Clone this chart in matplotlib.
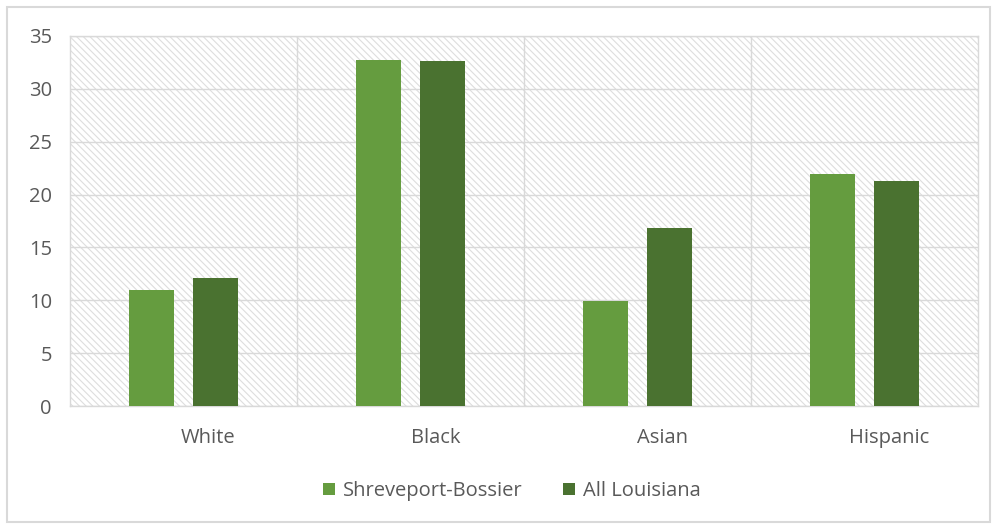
import numpy as np
import matplotlib
matplotlib.use("Agg")
import matplotlib.pyplot as plt
from matplotlib.patches import Rectangle

categories = ["White", "Black", "Asian", "Hispanic"]
shreveport = [11.0, 32.7, 9.9, 21.9]
louisiana = [12.1, 32.6, 16.8, 21.3]
series_names = ["Shreveport-Bossier", "All Louisiana"]

c_light = "#659C3F"
c_dark = "#4A7230"
grid_c = "#d9d9d9"
text_c = "#595959"

plt.rcParams["font.family"] = ["Open Sans", "DejaVu Sans"]
plt.rcParams["hatch.linewidth"] = 0.8

fig = plt.figure(figsize=(9.95, 5.25), dpi=100)
ax = fig.add_axes([70 / 995, 1 - 406 / 525, 908 / 995, 370 / 525])

x = np.arange(len(categories))
w = 0.194
off = 0.141

# hatched background
ax.add_patch(Rectangle((-0.5, 0), 4, 35, facecolor="white", edgecolor="#dedede",
                       linewidth=0, hatch="\\\\\\\\\\", zorder=0))

ax.bar(x - off, shreveport, w, color=c_light, label=series_names[0], zorder=3)
ax.bar(x + off, louisiana, w, color=c_dark, label=series_names[1], zorder=3)

ax.set_xlim(-0.5, 3.5)
ax.set_ylim(0, 35)
ax.set_yticks(range(0, 36, 5))
ax.yaxis.grid(True, color=grid_c, linewidth=1, zorder=1)
for b in [0.5, 1.5, 2.5]:
    ax.axvline(b, color=grid_c, linewidth=1, zorder=1)
ax.set_axisbelow(True)

for s in ax.spines.values():
    s.set_color(grid_c)
    s.set_linewidth(1)

ax.set_xticks(x + 0.11)
ax.set_xticklabels(categories)
ax.tick_params(axis="both", length=0, labelsize=14.5, colors=text_c)
ax.tick_params(axis="x", pad=16)
ax.tick_params(axis="y", pad=13)

leg = fig.legend(loc="center", bbox_to_anchor=(512 / 995, 1 - 491 / 525), ncol=2,
                 frameon=False, fontsize=14.5, handlelength=0.6, handleheight=0.6,
                 handletextpad=0.4, columnspacing=2.0)
for t in leg.get_texts():
    t.set_color(text_c)

fig.patches.append(Rectangle((7 / 995, 3 / 525), 983 / 995, 515 / 525,
                             transform=fig.transFigure, fill=False,
                             edgecolor="#d9d9d9", linewidth=1.5))

fig.savefig("out.png", dpi=100)
